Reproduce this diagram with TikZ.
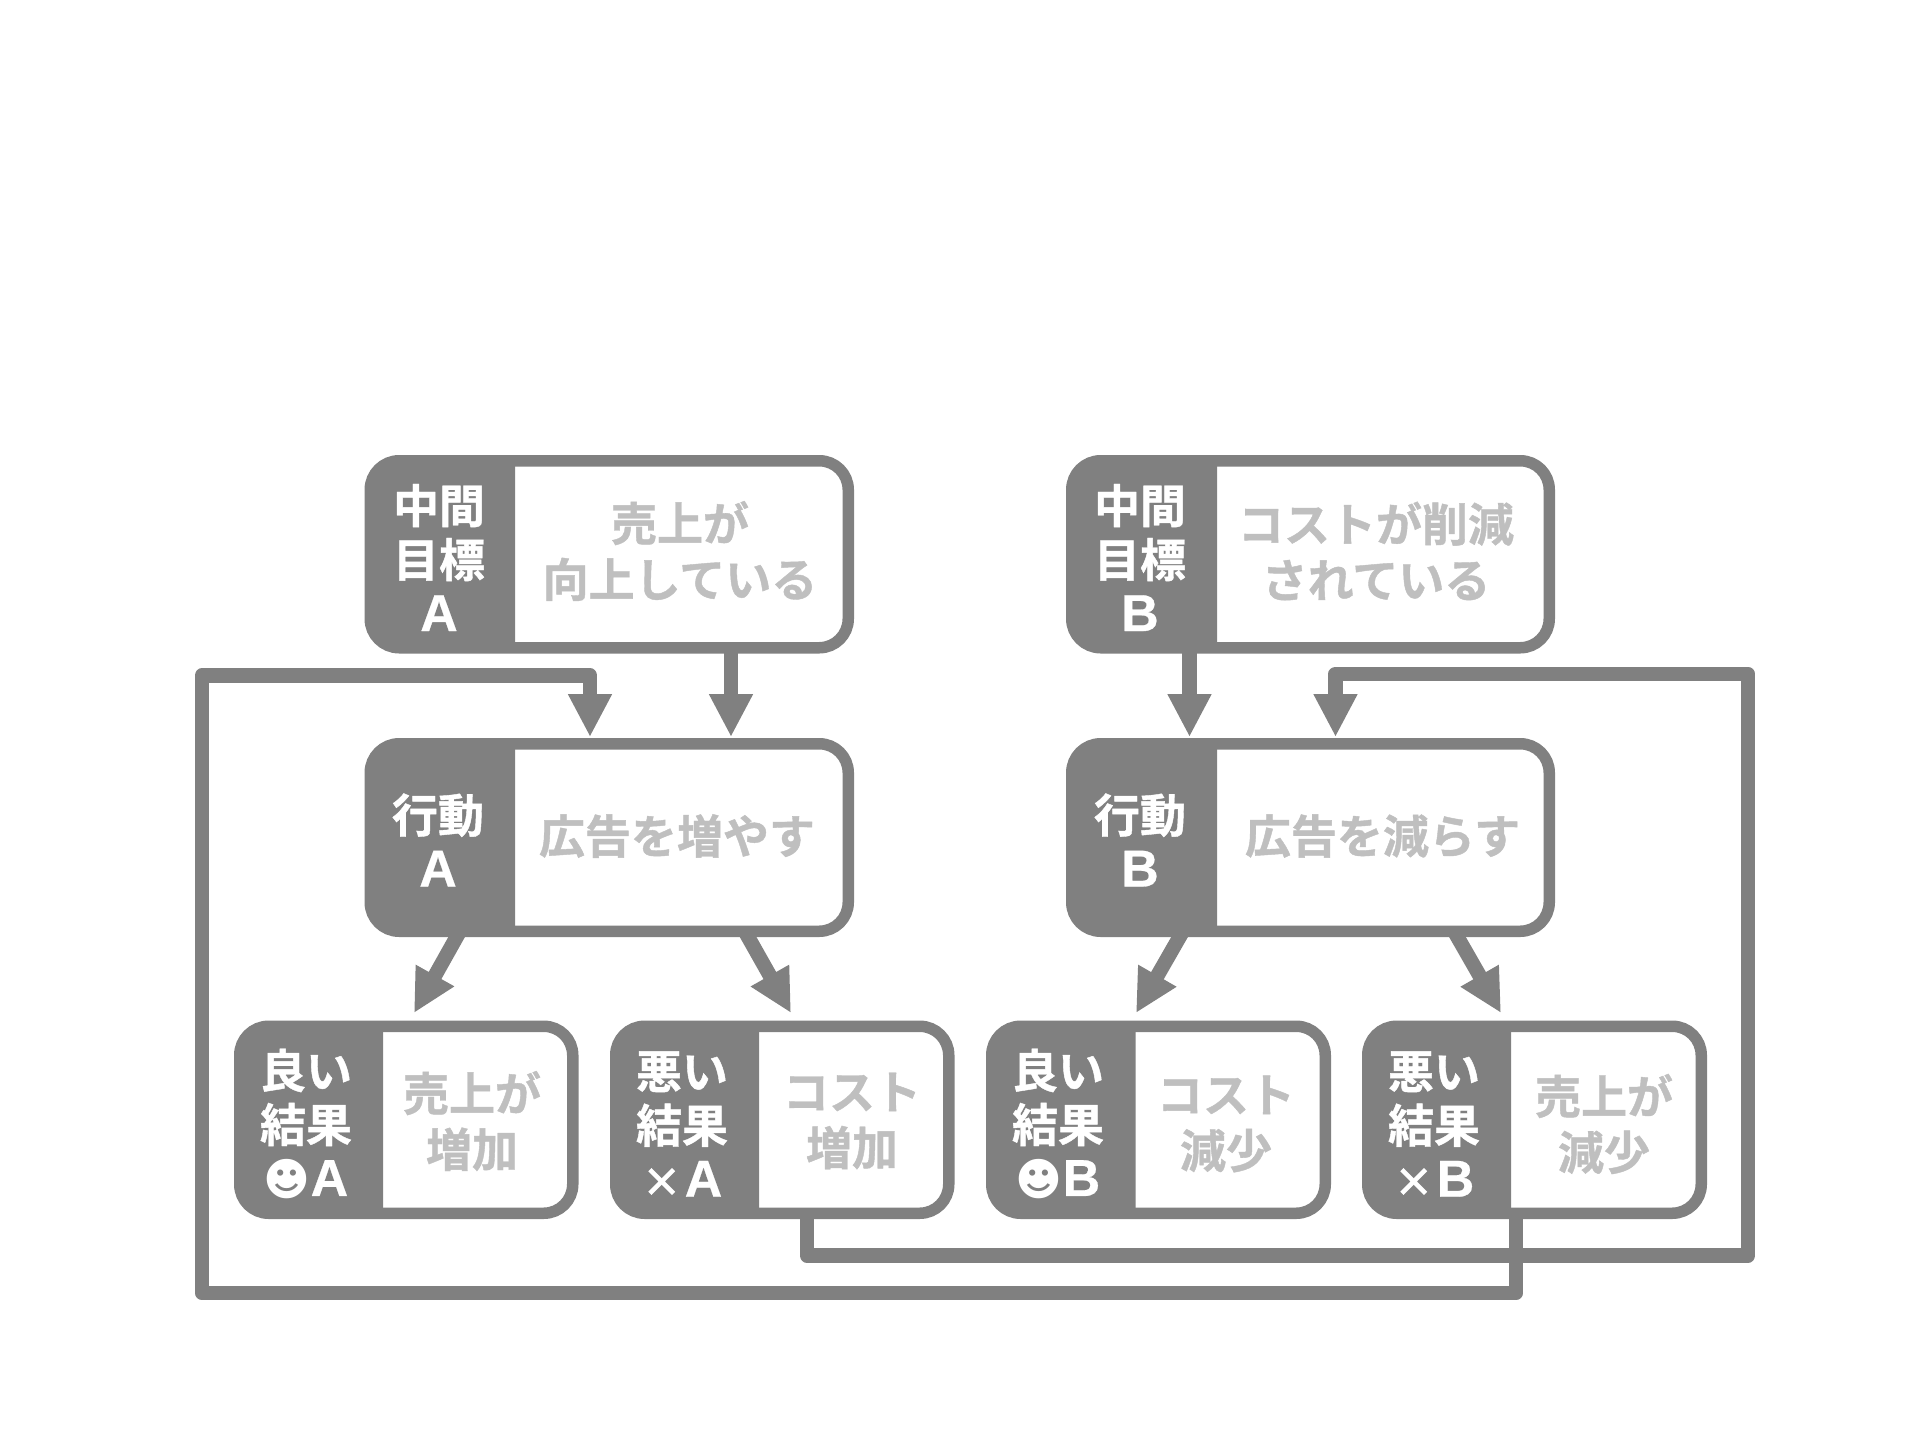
\documentclass[tikz,border=0pt]{standalone}
\usepackage{fontspec}
\setmainfont{Noto Sans CJK JP}[BoldFont={Noto Sans CJK JP Bold},BoldFeatures={FakeBold=0.9}]
\newfontfamily\latinb{Liberation Sans Bold}[FakeBold=0.5]
\newfontfamily\dejavu{DejaVu Sans}
\usetikzlibrary{arrows.meta,calc}
\definecolor{dark}{HTML}{808080}
\definecolor{soft}{HTML}{BFBFBF}
\newcommand{\LA}[1]{{\latinb\fontsize{52}{54}\selectfont #1}}
\newcommand{\face}{{\dejavu\fontsize{45}{54}\selectfont ☻}}
\newcommand{\crossmark}{{\fontsize{40}{54}\selectfont ×\hspace{3pt}}}
% name, x0, y0, x1, y1, xd (outer box and panel edge, in px)
\newcommand{\panelbox}[6]{%
  \node[outerbox, minimum width={(#4-#2-11.5)*1pt}, minimum height={(#5-#3-11.5)*1pt}] (#1) at ({(#2+#4)/2},{-(#3+#5)/2}) {};
  \fill[dark, rounded corners=29pt] (#6,{-#3-5.75}) -- ({#2+5.75},{-#3-5.75}) -- ({#2+5.75},{-#5+5.75}) -- (#6,{-#5+5.75});
}
\tikzset{
  x=1pt, y=1pt,
  outerbox/.style={draw=dark, line width=11.5pt, fill=white, rounded corners=29pt, inner sep=0pt, outer sep=0pt},
  labeltext/.style={text=white, font=\bfseries\fontsize{46}{54}\selectfont, align=center, inner sep=0pt},
  valuetext/.style={text=soft, font=\bfseries\fontsize{46}{56}\selectfont, align=center, inner sep=0pt},
  flow/.style={draw=dark, line width=14.5pt, -{Triangle[width=41pt,length=43pt]}},
  loop/.style={draw=dark, line width=14.5pt, line join=round, -{Triangle[width=41pt,length=43pt]}},
}
\begin{document}
\begin{tikzpicture}
\useasboundingbox (0,0) rectangle (1920,-1440);
\fill[white] (0,0) rectangle (1920,-1440);
% boxes
\panelbox{gA}{364.5}{455}{854}{653.5}{515}
\panelbox{aA}{364.5}{738}{854}{937}{515}
\panelbox{gB}{1066}{455}{1555}{653.5}{1217}
\panelbox{aB}{1066}{738}{1555}{937}{1217}
\panelbox{rA}{234}{1020.5}{578.5}{1219}{383}
\panelbox{rX}{610}{1020.5}{954.5}{1219}{759}
\panelbox{sB}{986}{1020.5}{1331}{1219}{1135.5}
\panelbox{sX}{1362}{1020.5}{1707}{1219}{1511}
% labels
\node[labeltext] (lgA) at (439,-557.5) {中間\\目標\\\LA{A}};
\node[valuetext] (vgA) at (680,-551) {売上が\\向上している};
\node[labeltext] (lgB) at (1140,-557.5) {中間\\目標\\\LA{B}};
\node[valuetext] (vgB) at (1376,-551) {コストが削減\\されている};
\node[labeltext] (laA) at (438,-840) {行動\\\LA{A}};
\node[valuetext] (vaA) at (677,-836) {広告を増やす};
\node[labeltext] (laB) at (1140,-840) {行動\\\LA{B}};
\node[valuetext] (vaB) at (1382.5,-836) {広告を減らす};
\node[labeltext] (lrA) at (306,-1124) {良い\\結果\\\face\LA{A}};
\node[valuetext] (vrA) at (472,-1121) {売上が\\増加};
\node[labeltext] (lrX) at (682,-1124) {悪い\\結果\\\crossmark\LA{A}};
\node[valuetext] (vrX) at (852,-1121) {コスト\\増加};
\node[labeltext] (lsB) at (1058,-1124) {良い\\結果\\\face\LA{B}};
\node[valuetext] (vsB) at (1226,-1124) {コスト\\減少};
\node[labeltext] (lsX) at (1434,-1124) {悪い\\結果\\\crossmark\LA{B}};
\node[valuetext] (vsX) at (1604,-1124) {売上が\\減少};
% connector waypoints
\coordinate (pA1) at (731,-737);
\coordinate (pA2) at (590,-737);
\coordinate (pB1) at (1189.5,-737);
\coordinate (pB2) at (1335.5,-737);
\coordinate (tA1) at (414,-1013);
\coordinate (tA2) at (791,-1013);
\coordinate (tB1) at (1136,-1013);
\coordinate (tB2) at (1501,-1013);
\coordinate (sA1) at (460,-931);
\coordinate (sA2) at (744.7,-931);
\coordinate (sB1) at (1183,-931);
\coordinate (sB2) at (1454,-931);
\coordinate (lA1) at (807,-1255.5);
\coordinate (lA2) at (1748,-1255.5);
\coordinate (lA3) at (1748,-674);
\coordinate (lA4) at (1335.5,-674);
\coordinate (lB1) at (1516,-1293);
\coordinate (lB2) at (202,-1293);
\coordinate (lB3) at (202,-675.5);
\coordinate (lB4) at (590,-675.5);
% connectors
\draw[flow] (gA.south -| pA1) -- (pA1);
\draw[flow] (gB.south -| pB1) -- (pB1);
\draw[flow] (sA1) -- (tA1);
\draw[flow] (sA2) -- (tA2);
\draw[flow] (sB1) -- (tB1);
\draw[flow] (sB2) -- (tB2);
\draw[loop] (rX.south -| lA1) -- (lA1) -- (lA2) -- (lA3) -- (lA4) -- (pB2);
\draw[loop] (sX.south -| lB1) -- (lB1) -- (lB2) -- (lB3) -- (lB4) -- (pA2);
\end{tikzpicture}
\end{document}
